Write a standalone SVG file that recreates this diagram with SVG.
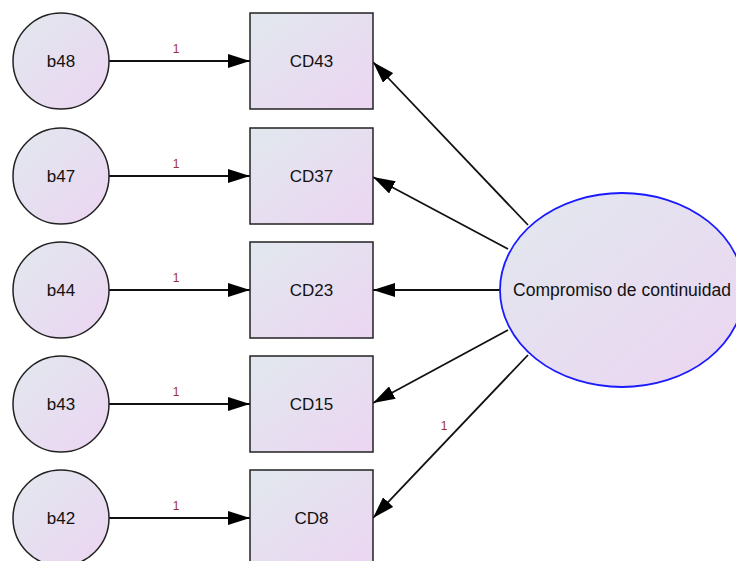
<svg xmlns="http://www.w3.org/2000/svg" width="736" height="561" viewBox="0 0 736 561">
<defs>
<linearGradient id="g" x1="0" y1="0" x2="1" y2="1">
<stop offset="0" stop-color="#E1E8EE"/>
<stop offset="1" stop-color="#ECD5F2"/>
</linearGradient>
<marker id="ah" markerUnits="userSpaceOnUse" markerWidth="22" markerHeight="14" viewBox="0 0 22 14" refX="22" refY="7" orient="auto">
<path d="M0,0 L22,7 L0,14 Z" fill="#000"/>
</marker>
<style>
.n{fill:url(#g);stroke:#222;stroke-width:1.5}
.lat{fill:url(#g);stroke:#1a1aff;stroke-width:1.8}
.t{font-family:"Liberation Sans",Arial,sans-serif;font-size:17px;fill:#111;text-anchor:middle;dominant-baseline:central}
.c{stroke:#111;stroke-width:1.8;fill:none;marker-end:url(#ah)}
.w{font-family:"Liberation Sans",Arial,sans-serif;font-size:12px;fill:#A0302A;text-anchor:middle}
</style>
</defs>
<rect width="736" height="561" fill="#fff"/>
<g id="connectors">
<line class="c" x1="109" y1="61" x2="250" y2="61"/>
<line class="c" x1="109" y1="176" x2="250" y2="176"/>
<line class="c" x1="109" y1="290" x2="250" y2="290"/>
<line class="c" x1="109" y1="404" x2="250" y2="404"/>
<line class="c" x1="109" y1="518" x2="250" y2="518"/>
<line class="c" x1="528" y1="225" x2="373" y2="62"/>
<line class="c" x1="508" y1="249" x2="373" y2="177"/>
<line class="c" x1="500" y1="290" x2="373" y2="290"/>
<line class="c" x1="508" y1="330" x2="373" y2="403"/>
<line class="c" x1="528" y1="355" x2="373" y2="518"/>
<text class="w" x="176" y="53">1</text>
<text class="w" x="176" y="168">1</text>
<text class="w" x="176" y="282">1</text>
<text class="w" x="176" y="396">1</text>
<text class="w" x="176" y="510">1</text>
<text class="w" x="444" y="430">1</text>
</g>
<g id="b48"><circle class="n" cx="61" cy="61" r="48"/><text class="t" x="61" y="61">b48</text></g>
<g id="b47"><circle class="n" cx="61" cy="176" r="48"/><text class="t" x="61" y="176">b47</text></g>
<g id="b44"><circle class="n" cx="61" cy="290" r="48"/><text class="t" x="61" y="290">b44</text></g>
<g id="b43"><circle class="n" cx="61" cy="404" r="48"/><text class="t" x="61" y="404">b43</text></g>
<g id="b42"><circle class="n" cx="61" cy="518" r="48"/><text class="t" x="61" y="518">b42</text></g>
<g id="CD43"><rect class="n" x="250" y="13" width="123" height="96"/><text class="t" x="311.5" y="61">CD43</text></g>
<g id="CD37"><rect class="n" x="250" y="128" width="123" height="96"/><text class="t" x="311.5" y="176">CD37</text></g>
<g id="CD23"><rect class="n" x="250" y="242" width="123" height="96"/><text class="t" x="311.5" y="290">CD23</text></g>
<g id="CD15"><rect class="n" x="250" y="356" width="123" height="96"/><text class="t" x="311.5" y="404">CD15</text></g>
<g id="CD8"><rect class="n" x="250" y="470" width="123" height="96"/><text class="t" x="311.5" y="518">CD8</text></g>
<g id="Compromiso"><ellipse class="lat" cx="622" cy="290" rx="122" ry="97"/><text class="t" x="622" y="290" style="font-size:17.5px">Compromiso de continuidad</text></g>
</svg>
